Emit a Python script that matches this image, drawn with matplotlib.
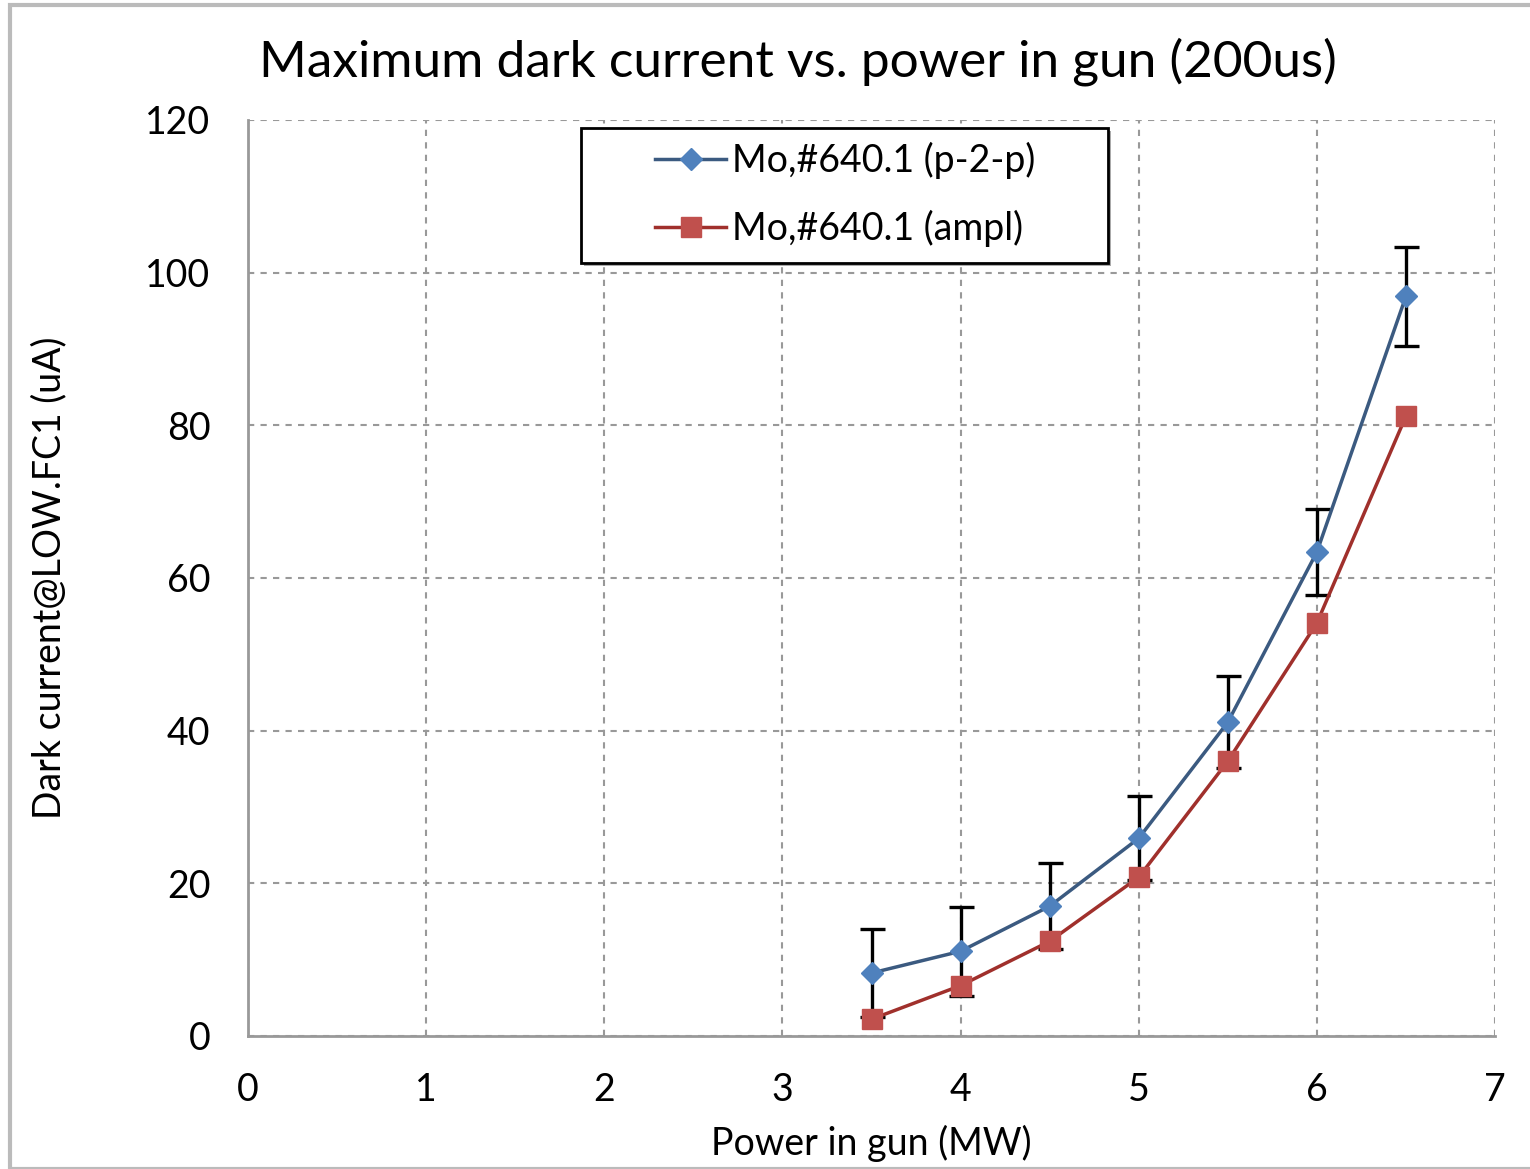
import numpy as np
import matplotlib
matplotlib.use("Agg")
import matplotlib.pyplot as plt
from matplotlib.patches import Rectangle

plt.rcParams['font.family'] = ['Lato', 'DejaVu Sans']

# data
power = [3.5, 4.0, 4.5, 5.0, 5.5, 6.0, 6.5]
p2p = [8.25, 11.1, 17.0, 25.9, 41.1, 63.4, 96.9]
p2p_err = [5.8, 5.8, 5.6, 5.5, 6.0, 5.6, 6.5]
ampl = [2.2, 6.6, 12.4, 20.8, 36.0, 54.1, 81.2]
labels = ["Mo,#640.1 (p-2-p)", "Mo,#640.1 (ampl)"]

W, H = 1530, 1169
fig = plt.figure(figsize=(W/100, H/100), dpi=100)
ax = fig.add_axes([248/W, 1-1036/H, (1495-248)/W, (1036-120)/H])

# outer chart border
fig.patches.append(Rectangle((10/W, 0), 1.0, 1-5/H, transform=fig.transFigure,
                             fill=False, edgecolor="#BBBBBB", lw=3))

ax.errorbar(power, p2p, yerr=p2p_err, fmt="none", ecolor="black", elinewidth=2.4,
            capsize=9, capthick=2.4, zorder=2)
l1, = ax.plot(power, p2p, color="#3B5A80", lw=2.5, marker="D", ms=11,
              mfc="#4F81BD", mec="#4F81BD", zorder=3)
l2, = ax.plot(power, ampl, color="#A0302C", lw=2.5, marker="s", ms=15,
              mfc="#C0504D", mec="#C0504D", zorder=3)

ax.set_xlim(0, 7)
ax.set_ylim(0, 120)
ax.set_xticks(range(0, 8))
ax.set_yticks(range(0, 121, 20))
ax.grid(True, color="#999999", ls=(0, (3, 3)), lw=1.5)
ax.set_axisbelow(True)
for s in ["top", "right"]:
    ax.spines[s].set_visible(False)
for s in ["left", "bottom"]:
    ax.spines[s].set_color("#999999")
    ax.spines[s].set_linewidth(2)
ax.tick_params(length=0, labelsize=27, pad=26)
ax.tick_params(axis="y", pad=27)

ax.set_xlabel("Power in gun (MW)", fontsize=27, labelpad=12)
ax.set_ylabel("Dark current@LOW.FC1 (uA)", fontsize=27, labelpad=56)
fig.text(798/W, 1-62/H, "Maximum dark current vs. power in gun (200us)",
         ha="center", va="center", fontsize=37)

# legend box (drawn separately to get the wide side padding)
fig.patches.append(Rectangle((584/W, 1-266/H), 527/W, 135/H, transform=fig.transFigure,
                             facecolor="#AAAAAA", edgecolor="none", zorder=4))
fig.patches.append(Rectangle((581/W, 1-263/H), 527/W, 135/H, transform=fig.transFigure,
                             facecolor="white", edgecolor="black", lw=2, zorder=4))
leg = fig.legend([l1, l2], labels, loc="center left",
                 bbox_to_anchor=(655/W, 1-194.5/H), bbox_transform=fig.transFigure,
                 fontsize=27, frameon=False, handlelength=1.9, borderpad=0,
                 labelspacing=0.84, handletextpad=0.15, borderaxespad=0)
leg.set_zorder(6)

fig.savefig("out.png", dpi=100)
